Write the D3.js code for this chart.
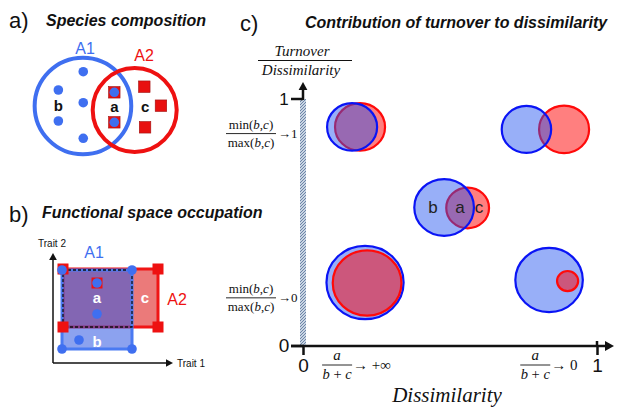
<!DOCTYPE html>
<html><head><meta charset="utf-8">
<script src="https://cdn.jsdelivr.net/npm/d3@7"></script>
<style>body{margin:0;background:#fff}svg{display:block}</style>
</head><body>
<script>
// ================= DATA =================
// Panel a: species composition (unit space 0..1 inside panel)
const vennNames = ["A1", "A2"];
const vennCX = [0.353, 0.698];
const vennCY = [0.51, 0.55];
const vennR  = [0.322, 0.28];
const a1SpeciesU = [0.355, 0.189, 0.355, 0.189, 0.355, 0.562, 0.562];
const a1SpeciesV = [0.167, 0.35, 0.477, 0.66, 0.833, 0.373, 0.673];
const a2SpeciesU = [0.562, 0.562, 0.762, 0.873, 0.767];
const a2SpeciesV = [0.373, 0.673, 0.317, 0.507, 0.723];
const vennLabels = ["b", "a", "c"];
const vennLabelU = [0.189, 0.562, 0.767];
const vennLabelV = [0.507, 0.523, 0.523];

// Panel b: functional space (trait values)
const a1Trait1 = [0.9, 7.9, 0.9, 7.9, 4.4, 4.4, 2.6];
const a1Trait2 = [9.3, 9.3, 1.4, 1.4, 8.0, 4.9, 2.3];
const a2Trait1 = [1.0, 10.5, 1.0, 10.5, 4.4];
const a2Trait2 = [9.4, 9.4, 3.6, 3.6, 8.0];
const traitLabels = ["a", "c", "b"];
const traitLabelT1 = [4.4, 9.2, 4.4];
const traitLabelT2 = [6.5, 6.5, 2.1];

// Panel c: circle pairs (x = dissimilarity, y = turnover/dissimilarity, r in x units)
const blueX = [0.167, 0.760, 0.480, 0.211, 0.837];
const blueY = [0.887, 0.877, 0.561, 0.257, 0.267];
const blueR = [0.083, 0.082, 0.099, 0.128, 0.112];
const redX  = [0.194, 0.888, 0.560, 0.218, 0.900];
const redY  = [0.887, 0.877, 0.559, 0.255, 0.263];
const redR  = [0.083, 0.083, 0.071, 0.114, 0.035];
const redOnTop = [false, false, false, true, true];
const pairLabels = ["b", "a", "c"];
const pairLabelX = [0.442, 0.534, 0.599];
const pairLabelY = [0.563, 0.563, 0.563];
const axisTickValues = [0, 1];
const yNoteValues = [0.86, 0.195];
const yNoteLimits = ["1", "0"];
const xNoteValues = [0.116, 0.79];
const xNoteLimits = ["+∞", "0"];

// ================= DRAW =================
const W = 617, H = 408;
const svg = d3.select("body").append("svg").attr("width", W).attr("height", H);
const SANS = "'Liberation Sans', Arial, sans-serif";
const SERIF = "'Liberation Serif', 'Times New Roman', serif";

const defs = svg.append("defs");
const pat = defs.append("pattern").attr("id", "hatch").attr("patternUnits", "userSpaceOnUse")
  .attr("width", 3).attr("height", 3);
pat.append("rect").attr("width", 3).attr("height", 3).attr("fill", "#c9d5e3");
pat.append("path").attr("d", "M0,3 L3,0").attr("stroke", "#6d85a8").attr("stroke-width", 1);

function arrowHead(g, x, y, dir, size, color) {
  const s = size;
  let pts;
  if (dir === "up") pts = [[x, y], [x - s * 0.55, y + s], [x + s * 0.55, y + s]];
  else pts = [[x, y], [x - s, y - s * 0.55], [x - s, y + s * 0.55]];
  g.append("path").attr("d", d3.line()(pts) + "Z").attr("fill", color);
}

// ---------- Panel labels & titles ----------
const heads = [
  {t: "a)", x: 9, y: 28, title: "Species composition", tx: 46, ty: 26},
  {t: "b)", x: 9, y: 222, title: "Functional space occupation", tx: 42, ty: 218},
  {t: "c)", x: 240, y: 31, title: "Contribution of turnover to dissimilarity", tx: 305, ty: 28}
];
heads.forEach(h => {
  svg.append("text").attr("x", h.x).attr("y", h.y).text(h.t)
    .attr("font-family", SANS).attr("font-size", 22).attr("fill", "#111");
  svg.append("text").attr("x", h.tx).attr("y", h.ty).text(h.title)
    .attr("font-family", SANS).attr("font-size", 16).attr("font-weight", "bold")
    .attr("font-style", "italic").attr("fill", "#111");
});

// ---------- Panel a ----------
const BLUE_A = "#3f6ff0", RED_A = "#ee1111";
const au = d3.scaleLinear().domain([0, 1]).range([30, 180]);
const av = d3.scaleLinear().domain([0, 1]).range([55, 155]);
const ar = d3.scaleLinear().domain([0, 1]).range([0, 150]);
const ga = svg.append("g");
vennNames.forEach((n, i) => {
  ga.append("circle").attr("cx", au(vennCX[i])).attr("cy", av(vennCY[i])).attr("r", ar(vennR[i]))
    .attr("fill", "none").attr("stroke", i === 0 ? BLUE_A : RED_A).attr("stroke-width", 4);
});
ga.append("text").attr("x", 85).attr("y", 54).attr("text-anchor", "middle").text(vennNames[0])
  .attr("font-family", SANS).attr("font-size", 16).attr("fill", BLUE_A);
ga.append("text").attr("x", 144).attr("y", 61).attr("text-anchor", "middle").text(vennNames[1])
  .attr("font-family", SANS).attr("font-size", 16).attr("fill", RED_A);
a2SpeciesU.forEach((u, i) => {
  const s = 11.5;
  ga.append("rect").attr("x", au(u) - s / 2).attr("y", av(a2SpeciesV[i]) - s / 2)
    .attr("width", s).attr("height", s).attr("fill", "#e8100f").attr("stroke", "#a01010").attr("stroke-width", 0.6);
});
a1SpeciesU.forEach((u, i) => {
  ga.append("circle").attr("cx", au(u)).attr("cy", av(a1SpeciesV[i])).attr("r", 4.8).attr("fill", BLUE_A);
});
vennLabels.forEach((l, i) => {
  ga.append("text").attr("x", au(vennLabelU[i])).attr("y", av(vennLabelV[i]) + 5)
    .attr("text-anchor", "middle").text(l).attr("font-family", SANS).attr("font-weight", "bold")
    .attr("font-size", 15).attr("fill", "#111");
});

// ---------- Panel b ----------
const t1 = d3.scaleLinear().domain([0, 12]).range([53, 173]);
const t2 = d3.scaleLinear().domain([0, 11]).range([363, 253]);
const gb = svg.append("g");
gb.append("line").attr("x1", t1(0)).attr("y1", t2(0)).attr("x2", t1(0)).attr("y2", t2(11) + 3)
  .attr("stroke", "#111").attr("stroke-width", 1.5);
gb.append("line").attr("x1", t1(0)).attr("y1", t2(0)).attr("x2", t1(12) - 3).attr("y2", t2(0))
  .attr("stroke", "#111").attr("stroke-width", 1.5);
arrowHead(gb, t1(0), t2(11), "up", 7, "#111");
arrowHead(gb, t1(12), t2(0), "right", 7, "#111");
gb.append("text").attr("x", 52).attr("y", 247).attr("text-anchor", "middle").text("Trait 2")
  .attr("font-family", SANS).attr("font-size", 10).attr("fill", "#111");
gb.append("text").attr("x", 177).attr("y", 367).text("Trait 1")
  .attr("font-family", SANS).attr("font-size", 10).attr("fill", "#111");

const a1Pts = a1Trait1.map((v, i) => [t1(v), t2(a1Trait2[i])]);
const a2Pts = a2Trait1.map((v, i) => [t1(v), t2(a2Trait2[i])]);
const hull1 = d3.polygonHull(a1Pts), hull2 = d3.polygonHull(a2Pts);
gb.append("path").attr("d", "M" + hull2.join("L") + "Z").attr("fill", "rgba(222,40,40,0.62)")
  .attr("stroke", "#f01515").attr("stroke-width", 3);
gb.append("path").attr("d", "M" + hull1.join("L") + "Z").attr("fill", "rgba(45,85,225,0.55)")
  .attr("stroke", "#4a7af2").attr("stroke-width", 3);
const ix0 = Math.max(d3.min(a1Trait1), d3.min(a2Trait1)), ix1 = Math.min(d3.max(a1Trait1), d3.max(a2Trait1));
const iy0 = Math.max(d3.min(a1Trait2), d3.min(a2Trait2)), iy1 = Math.min(d3.max(a1Trait2), d3.max(a2Trait2));
gb.append("rect").attr("x", t1(ix0)).attr("y", t2(iy1)).attr("width", t1(ix1) - t1(ix0))
  .attr("height", t2(iy0) - t2(iy1)).attr("fill", "none").attr("stroke", "#111")
  .attr("stroke-width", 1.3).attr("stroke-dasharray", "3,2");
a2Pts.forEach(p => {
  const s = 11;
  gb.append("rect").attr("x", p[0] - s / 2).attr("y", p[1] - s / 2).attr("width", s).attr("height", s)
    .attr("fill", "#ee1111");
});
a1Pts.forEach(p => {
  gb.append("circle").attr("cx", p[0]).attr("cy", p[1]).attr("r", 4.8).attr("fill", "#3f6ff0");
});
traitLabels.forEach((l, i) => {
  gb.append("text").attr("x", t1(traitLabelT1[i])).attr("y", t2(traitLabelT2[i]) + 5)
    .attr("text-anchor", "middle").text(l).attr("font-family", SANS).attr("font-weight", "bold")
    .attr("font-size", 15).attr("fill", "#fff");
});
gb.append("text").attr("x", 94).attr("y", 258).attr("text-anchor", "middle").text("A1")
  .attr("font-family", SANS).attr("font-size", 16).attr("fill", "#3f6ff0");
gb.append("text").attr("x", 177).attr("y", 305).attr("text-anchor", "middle").text("A2")
  .attr("font-family", SANS).attr("font-size", 16).attr("fill", "#ee1111");

// ---------- Panel c ----------
const x = d3.scaleLinear().domain([0, 1]).range([303, 597]);
const y = d3.scaleLinear().domain([0, 1]).range([346, 99]);
const r = d3.scaleLinear().domain([0, 1]).range([0, 294]);
const gc = svg.append("g");

gc.append("text").attr("x", 302).attr("y", 56).attr("text-anchor", "middle").text("Turnover")
  .attr("font-family", SERIF).attr("font-style", "italic").attr("font-size", 15).attr("fill", "#111");
gc.append("line").attr("x1", 258).attr("x2", 352).attr("y1", 60.5).attr("y2", 60.5)
  .attr("stroke", "#111").attr("stroke-width", 1);
gc.append("text").attr("x", 301).attr("y", 75).attr("text-anchor", "middle").text("Dissimilarity")
  .attr("font-family", SERIF).attr("font-style", "italic").attr("font-size", 15).attr("fill", "#111");

gc.append("rect").attr("x", x(0) - 3).attr("y", y(1)).attr("width", 6).attr("height", y(0) - y(1))
  .attr("fill", "url(#hatch)");
gc.append("line").attr("x1", x(0)).attr("x2", x(0)).attr("y1", y(1) + 1).attr("y2", y(1) - 12)
  .attr("stroke", "#111").attr("stroke-width", 2.5);
arrowHead(gc, x(0), y(1) - 17, "up", 8, "#111");
axisTickValues.forEach(v => {
  gc.append("line").attr("x1", x(0) - 12).attr("x2", x(0)).attr("y1", y(v)).attr("y2", y(v))
    .attr("stroke", "#111").attr("stroke-width", 2.5);
  gc.append("text").attr("x", x(0) - 19).attr("y", y(v) + 6).attr("text-anchor", "middle")
    .text(d3.format("d")(v)).attr("font-family", SANS).attr("font-size", v === 0 ? 19 : 17).attr("fill", "#111");
});
const xAxis = d3.axisBottom(x).tickValues(axisTickValues).tickSize(9).tickPadding(4).tickFormat(d3.format("d"));
const xg = gc.append("g").attr("transform", `translate(0,${y(0)})`).call(xAxis);
xg.select(".domain").remove();
xg.selectAll(".tick line").attr("stroke", "#111").attr("stroke-width", 2.5);
xg.selectAll(".tick text").attr("font-family", SANS).attr("font-size", 19).attr("fill", "#111");
gc.append("line").attr("x1", x(0) - 12).attr("x2", x(1) + 10).attr("y1", y(0)).attr("y2", y(0))
  .attr("stroke", "#111").attr("stroke-width", 2.5);
arrowHead(gc, x(1) + 17, y(0), "right", 9, "#111");
gc.append("line").attr("x1", x(1)).attr("x2", x(1)).attr("y1", y(0) - 5).attr("y2", y(0))
  .attr("stroke", "#111").attr("stroke-width", 2.5);

function minmax(g, cx, ly, label) {
  const num = g.append("text").attr("x", cx).attr("y", ly - 4.5).attr("text-anchor", "middle")
    .attr("font-family", SERIF).attr("font-size", 13).attr("fill", "#111");
  num.append("tspan").text("min(");
  num.append("tspan").attr("font-style", "italic").text("b");
  num.append("tspan").text(",");
  num.append("tspan").attr("font-style", "italic").text("c");
  num.append("tspan").text(")");
  g.append("line").attr("x1", cx - 25).attr("x2", cx + 25).attr("y1", ly).attr("y2", ly)
    .attr("stroke", "#111").attr("stroke-width", 0.9);
  const den = g.append("text").attr("x", cx).attr("y", ly + 13).attr("text-anchor", "middle")
    .attr("font-family", SERIF).attr("font-size", 13).attr("fill", "#111");
  den.append("tspan").text("max(");
  den.append("tspan").attr("font-style", "italic").text("b");
  den.append("tspan").text(",");
  den.append("tspan").attr("font-style", "italic").text("c");
  den.append("tspan").text(")");
  g.append("text").attr("x", cx + 27).attr("y", ly + 4.5).text("→" + label)
    .attr("font-family", SERIF).attr("font-size", 13).attr("fill", "#111");
}
yNoteValues.forEach((v, i) => minmax(gc, 251, y(v), yNoteLimits[i]));

function abc(g, cx, ly, label) {
  g.append("text").attr("x", cx).attr("y", ly - 5).attr("text-anchor", "middle")
    .attr("font-family", SERIF).attr("font-style", "italic").attr("font-size", 15).attr("fill", "#111").text("a");
  g.append("line").attr("x1", cx - 15).attr("x2", cx + 15).attr("y1", ly).attr("y2", ly)
    .attr("stroke", "#111").attr("stroke-width", 0.9);
  const den = g.append("text").attr("x", cx).attr("y", ly + 14).attr("text-anchor", "middle")
    .attr("font-family", SERIF).attr("font-size", 14.5).attr("fill", "#111");
  den.append("tspan").attr("font-style", "italic").text("b");
  den.append("tspan").text(" + ");
  den.append("tspan").attr("font-style", "italic").text("c");
  g.append("text").attr("x", cx + 16).attr("y", ly + 5).text("→ " + label)
    .attr("font-family", SERIF).attr("font-size", 15).attr("fill", "#111");
}
xNoteValues.forEach((v, i) => abc(gc, x(v), 365, xNoteLimits[i]));

gc.append("text").attr("x", 447).attr("y", 402).attr("text-anchor", "middle").text("Dissimilarity")
  .attr("font-family", SERIF).attr("font-style", "italic").attr("font-size", 21).attr("fill", "#111");

const BLUE_FILL = "rgba(30,80,240,0.46)", RED_FILL = "rgba(255,0,0,0.5)";
function drawCircle(g, cx, cy, rr, col) {
  g.append("ellipse").attr("cx", cx).attr("cy", cy).attr("rx", rr * 1.025).attr("ry", rr * 0.975)
    .attr("fill", col === "blue" ? BLUE_FILL : RED_FILL)
    .attr("stroke", col === "blue" ? "#0a14f5" : "#ff0a0a").attr("stroke-width", 2.2);
}
blueX.forEach((bx, i) => {
  const order = redOnTop[i] ? ["blue", "red"] : ["red", "blue"];
  order.forEach(c => {
    if (c === "blue") drawCircle(gc, x(bx), y(blueY[i]), r(blueR[i]), "blue");
    else drawCircle(gc, x(redX[i]), y(redY[i]), r(redR[i]), "red");
  });
});
pairLabels.forEach((l, i) => {
  gc.append("text").attr("x", x(pairLabelX[i])).attr("y", y(pairLabelY[i]) + 6)
    .attr("text-anchor", "middle").text(l).attr("font-family", SANS).attr("font-size", 17).attr("fill", "#222");
});
</script>
</body></html>
